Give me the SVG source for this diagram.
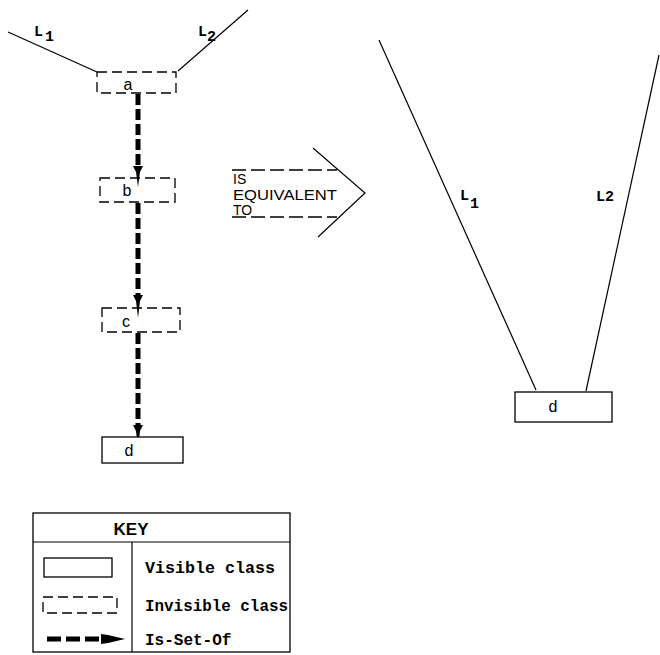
<svg xmlns="http://www.w3.org/2000/svg" width="660" height="655" viewBox="0 0 660 655">
<style>
.inv{fill:none;stroke:#000;stroke-width:1.3;stroke-dasharray:10,5}
.vis{fill:#fff;stroke:#000;stroke-width:1.3}
.thin{stroke:#000;stroke-width:1.2;fill:none}
.isa{stroke:#000;stroke-width:5;stroke-dasharray:11,4;fill:none}
.head{fill:#000}
.sans{font-family:"Liberation Sans",Arial,sans-serif;fill:#000}
.mono{font-family:"Liberation Mono","Courier New",monospace;font-weight:bold;fill:#000}
.lbl{font-family:"Liberation Mono","Courier New",monospace;font-weight:bold;fill:#000;font-size:15px}
.eq{stroke:#000;stroke-width:1.5;stroke-dasharray:14,5;fill:none}
</style>
<rect width="660" height="655" fill="#fff"/>
<g id="connectors">
  <line class="thin" x1="8" y1="32" x2="97" y2="72"/>
  <line class="thin" x1="248" y1="10" x2="178" y2="71"/>
  <line class="isa" x1="138" y1="94" x2="138" y2="168"/>
  <polygon class="head" points="133,166 143,166 140,172 138,187 136,172"/>
  <line class="isa" x1="138" y1="203" x2="138" y2="297"/>
  <polygon class="head" points="133,295 143,295 140,301 138,318 136,301"/>
  <line class="isa" x1="138" y1="333" x2="138" y2="427"/>
  <polygon class="head" points="133,425 143,425 140,431 138,448 136,431"/>
  <line class="thin" x1="379" y1="40" x2="536" y2="390"/>
  <line class="thin" x1="659" y1="55" x2="586" y2="391"/>
</g>
<g id="label-L1-left">
  <text class="lbl" x="34" y="36">L</text>
  <text class="lbl" x="45" y="41">1</text>
</g>
<g id="label-L2-left">
  <text class="lbl" x="198" y="36">L</text>
  <text class="lbl" x="207" y="41">2</text>
</g>
<g id="node-a">
  <rect class="inv" x="97" y="72" width="79" height="21"/>
  <text class="sans" x="128" y="90" font-size="16" text-anchor="middle">a</text>
</g>
<g id="node-b">
  <rect class="inv" x="100" y="178" width="75" height="24"/>
  <text class="sans" x="127" y="196" font-size="16" text-anchor="middle">b</text>
</g>
<g id="node-c">
  <rect class="inv" x="102" y="308" width="78" height="24"/>
  <text class="sans" x="126" y="327" font-size="16" text-anchor="middle">c</text>
</g>
<g id="node-d-left">
  <rect class="vis" x="102" y="437" width="81" height="26"/>
  <text class="sans" x="129" y="456" font-size="16" text-anchor="middle">d</text>
</g>
<g id="equivalence">
  <line class="eq" x1="232" y1="170" x2="337" y2="170"/>
  <line class="eq" x1="232" y1="217" x2="337" y2="217"/>
  <polyline class="thin" points="313,148 365,193 318,237"/>
  <text class="sans" x="233" y="184" font-size="14">IS</text>
  <text class="sans" x="233" y="200" font-size="14" textLength="104" lengthAdjust="spacingAndGlyphs">EQUIVALENT</text>
  <text class="sans" x="233" y="215" font-size="14">TO</text>
</g>
<g id="label-L1-right">
  <text class="lbl" x="460" y="200">L</text>
  <text class="lbl" x="470" y="208">1</text>
</g>
<g id="label-L2-right">
  <text class="lbl" x="596" y="201">L2</text>
</g>
<g id="node-d-right">
  <rect class="vis" x="515" y="392" width="97" height="30"/>
  <text class="sans" x="553" y="412" font-size="16" text-anchor="middle">d</text>
</g>
<g id="key">
  <rect x="33" y="513" width="257" height="139" fill="none" stroke="#000" stroke-width="1.3"/>
  <line class="thin" x1="33" y1="542" x2="290" y2="542"/>
  <line class="thin" x1="132" y1="542" x2="132" y2="652"/>
  <text class="sans" x="131" y="535" font-size="17" font-weight="bold" text-anchor="middle">KEY</text>
  <rect class="vis" x="44" y="558" width="68" height="19"/>
  <text class="mono" x="145" y="573" font-size="16" textLength="130" lengthAdjust="spacingAndGlyphs">Visible class</text>
  <rect class="inv" x="43" y="597" width="74" height="16"/>
  <text class="mono" x="145" y="611" font-size="16" textLength="143" lengthAdjust="spacingAndGlyphs">Invisible class</text>
  <line x1="47" y1="639" x2="105" y2="639" stroke="#000" stroke-width="5" stroke-dasharray="14,5"/>
  <polygon class="head" points="101,634 108,635 125,639 108,643 101,644"/>
  <text class="mono" x="145" y="645" font-size="16">Is-Set-Of</text>
</g>
</svg>
